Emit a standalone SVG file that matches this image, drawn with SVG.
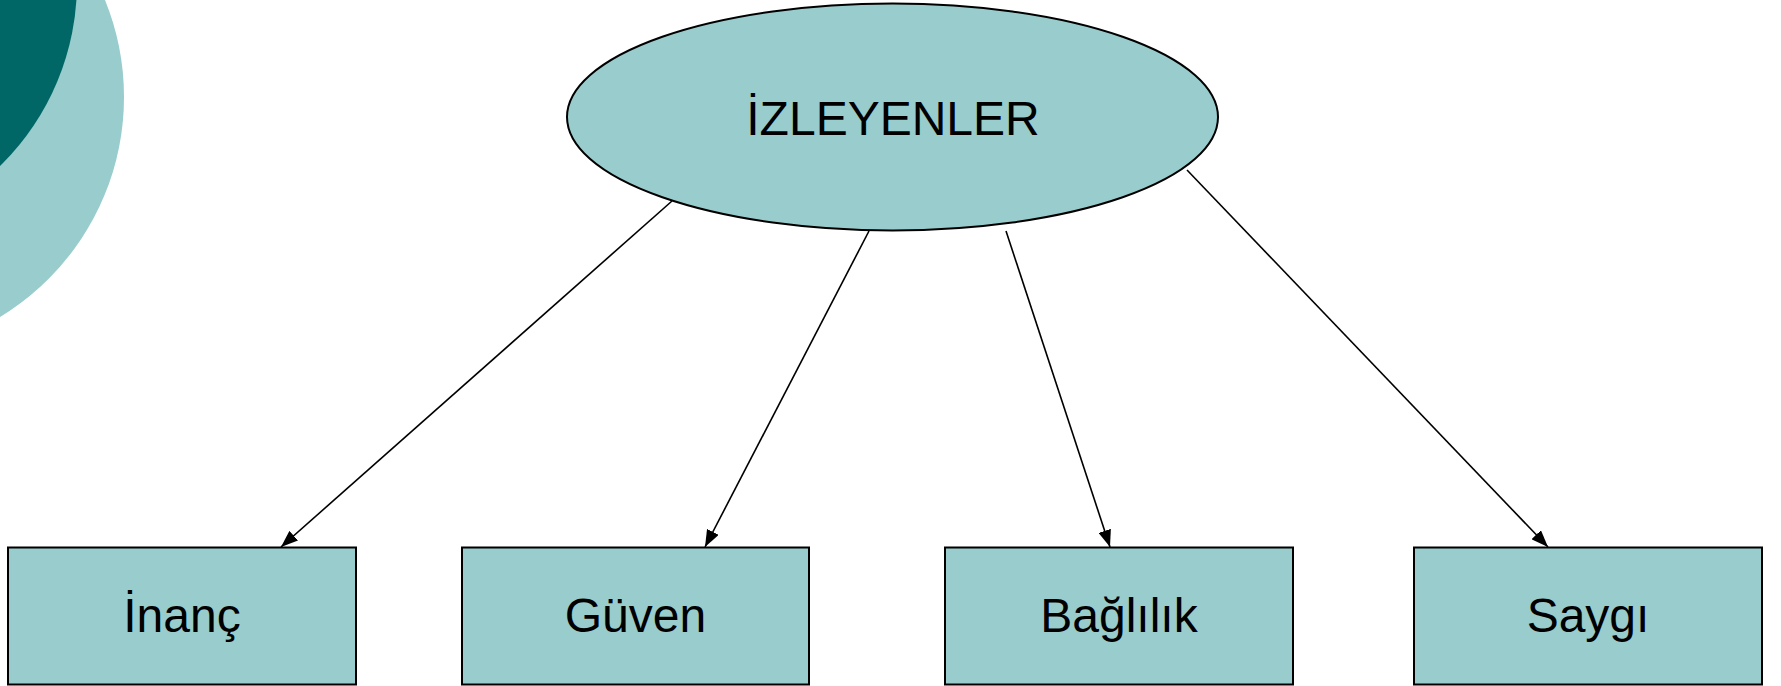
<svg xmlns="http://www.w3.org/2000/svg" width="1781" height="686" viewBox="0 0 1781 686">
<style>
.node{fill:#99CCCC;stroke:#000;stroke-width:2}
.lbl{font-family:"Liberation Sans",Arial,sans-serif;font-size:48px;fill:#000;text-anchor:middle}
.edge{stroke:#000;stroke-width:1.6;fill:none;marker-end:url(#arr)}
</style>
<defs>
<marker id="arr" markerUnits="userSpaceOnUse" markerWidth="17" markerHeight="13" refX="17" refY="6.5" orient="auto">
<path d="M0,0 L17,6.5 L0,13 z" fill="#000"/>
</marker>
</defs>
<rect width="1781" height="686" fill="#fff"/>
<g id="bg">
<circle cx="-133" cy="97" r="257" fill="#99CCCC"/>
<circle cx="-179" cy="-17" r="256" fill="#006666"/>
</g>
<g id="connectors">
<line class="edge" x1="672" y1="201" x2="281" y2="547"/>
<line class="edge" x1="869" y1="231" x2="705" y2="547"/>
<line class="edge" x1="1006" y1="231" x2="1110" y2="547"/>
<line class="edge" x1="1187" y1="170" x2="1548" y2="547"/>
</g>
<g id="izleyenler">
<ellipse class="node" cx="892.5" cy="117" rx="325.5" ry="113.5"/>
<text class="lbl" x="893" y="135">İZLEYENLER</text>
</g>
<g id="inanc">
<rect class="node" x="8" y="547.5" width="348" height="137"/>
<text class="lbl" x="182" y="632">İnanç</text>
</g>
<g id="guven">
<rect class="node" x="462" y="547.5" width="347" height="137"/>
<text class="lbl" x="635.5" y="632">Güven</text>
</g>
<g id="baglilik">
<rect class="node" x="945" y="547.5" width="348" height="137"/>
<text class="lbl" x="1119" y="632">Bağlılık</text>
</g>
<g id="saygi">
<rect class="node" x="1414" y="547.5" width="348" height="137"/>
<text class="lbl" x="1588" y="632">Saygı</text>
</g>
</svg>
